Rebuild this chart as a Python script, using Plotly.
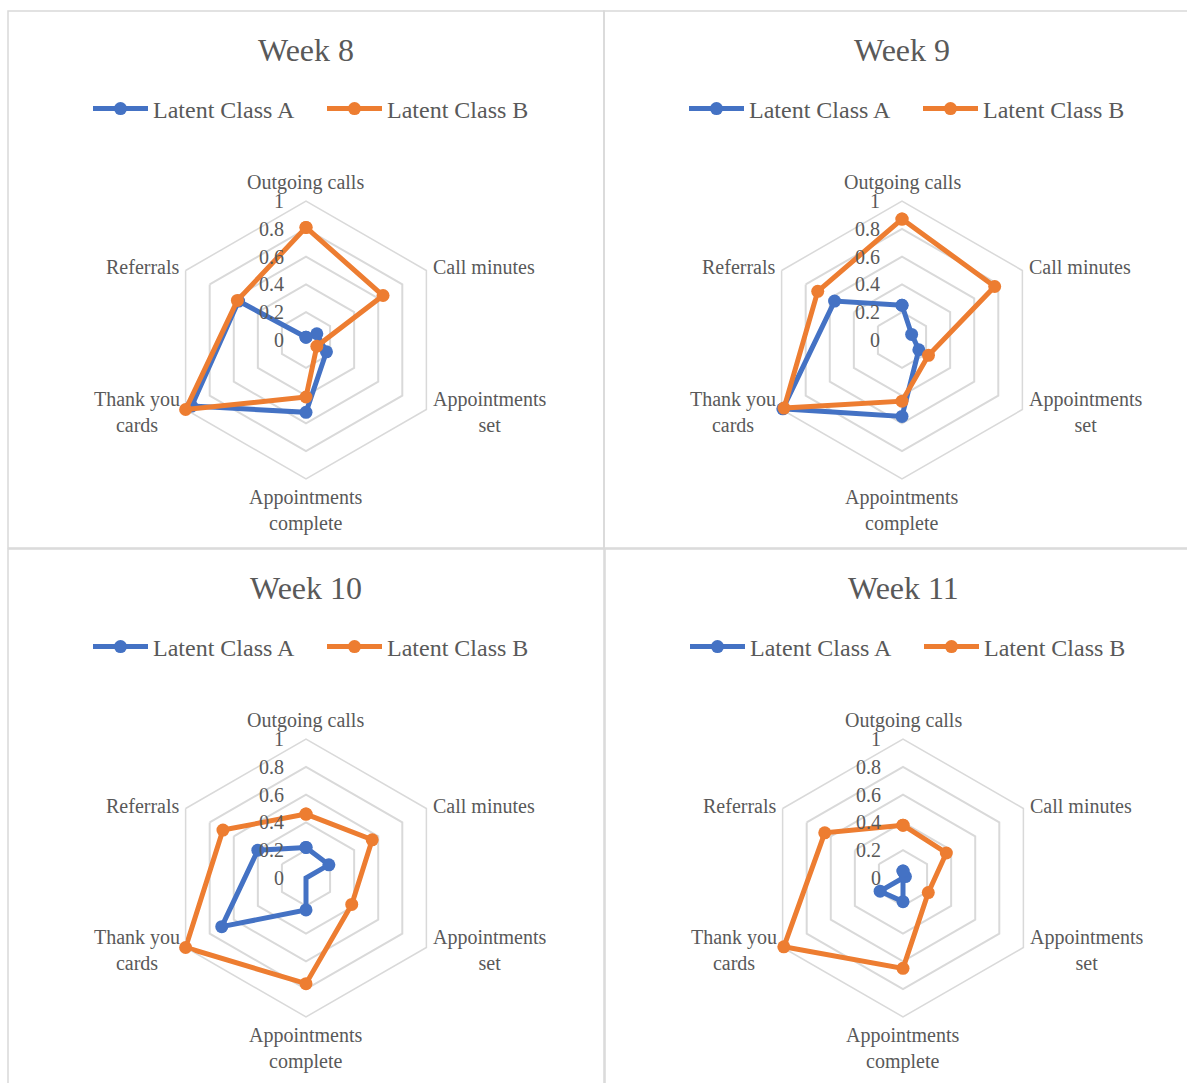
import math
import plotly.graph_objects as go

# Activity measures shown on each radar axis
categories = ["Outgoing calls", "Call minutes", "Appointments set",
              "Appointments complete", "Thank you cards", "Referrals"]
category_labels = ["Outgoing calls", "Call minutes", "Appointments<br>set",
                   "Appointments<br>complete", "Thank you<br>cards", "Referrals"]

weeks = ["Week 8", "Week 9", "Week 10", "Week 11"]

# Normalised scores per latent class, one list per week
class_a_week8 = [0.02, 0.09, 0.17, 0.52, 0.95, 0.56]
class_b_week8 = [0.81, 0.64, 0.09, 0.41, 1.00, 0.57]
class_a_week9 = [0.25, 0.08, 0.14, 0.55, 0.99, 0.56]
class_b_week9 = [0.87, 0.77, 0.22, 0.44, 0.98, 0.70]
class_a_week10 = [0.22, 0.19, 0.00, 0.23, 0.70, 0.40]
class_b_week10 = [0.46, 0.55, 0.38, 0.76, 1.00, 0.69]
class_a_week11 = [0.05, 0.02, 0.00, 0.17, 0.19, 0.00]
class_b_week11 = [0.38, 0.36, 0.21, 0.65, 0.99, 0.65]

series_names = ["Latent Class A", "Latent Class B"]
radial_ticks = [0, 0.2, 0.4, 0.6, 0.8, 1]

class_a = [class_a_week8, class_a_week9, class_a_week10, class_a_week11]
class_b = [class_b_week8, class_b_week9, class_b_week10, class_b_week11]

W, H = 1187, 1083
FONT = "Liberation Serif"
TEXT = "#595959"
GRID = "#d9d9d9"
COLORS = ["#4472C4", "#ED7D31"]

# Panel top-left corners (px) and sizes
panel_origins = [(8, 11), (604, 11), (8, 549), (605, 549)]
PANEL_W, PANEL_H = 596, 537
CENTER_DX, CENTER_DY = 298, 329
RADIUS = 139
TITLE_DY, LEGEND_DY = 39, 98


def px_x(x):
    return x / W


def px_y(y):
    return 1 - y / H


fig = go.Figure()
layout = dict(
    width=W, height=H,
    margin=dict(l=0, r=0, t=0, b=0),
    paper_bgcolor="white", plot_bgcolor="white",
    font=dict(family=FONT, color=TEXT, size=20),
    shapes=[], annotations=[],
)

n_cat = len(categories)
for i, week in enumerate(weeks):
    ox, oy = panel_origins[i]
    cx, cy = ox + CENTER_DX, oy + CENTER_DY
    polar_name = "polar" if i == 0 else f"polar{i + 1}"
    subplot = polar_name
    legend_name = "legend" if i == 0 else f"legend{i + 1}"

    for s, values in enumerate([class_a[i], class_b[i]]):
        fig.add_trace(go.Scatterpolar(
            r=values + values[:1],
            theta=categories + categories[:1],
            mode="lines+markers",
            name=series_names[s],
            line=dict(color=COLORS[s], width=5),
            marker=dict(color=COLORS[s], size=13),
            subplot=subplot,
            legend=legend_name,
            cliponaxis=False,
        ))

    layout[polar_name] = dict(
        domain=dict(x=[px_x(cx - RADIUS), px_x(cx + RADIUS)],
                    y=[px_y(cy + RADIUS), px_y(cy - RADIUS)]),
        bgcolor="rgba(0,0,0,0)",
        gridshape="linear",
        radialaxis=dict(
            range=[0, 1], tickvals=radial_ticks,
            showticklabels=False,
            angle=90, showline=False, ticks="",
            gridcolor=GRID, gridwidth=1.5,
            layer="below traces",
        ),
        angularaxis=dict(
            direction="clockwise", rotation=90,
            categoryorder="array", categoryarray=categories,
            showticklabels=False,
            showgrid=False, showline=True, linecolor=GRID, linewidth=1.5,
            ticks="", layer="below traces",
        ),
    )

    # Radial value labels, right-aligned just left of the vertical axis
    for t in radial_ticks:
        layout["annotations"].append(dict(
            text=f"{t:g}", showarrow=False,
            x=px_x(cx - 20), y=px_y(cy - t * RADIUS),
            xref="paper", yref="paper", xanchor="right", yanchor="middle",
            font=dict(family=FONT, color=TEXT, size=20),
        ))

    # Category labels placed just outside each vertex of the outer hexagon
    for k, label in enumerate(category_labels):
        ang = 2 * math.pi * k / n_cat
        vx = cx + RADIUS * math.sin(ang)
        vy = cy - RADIUS * math.cos(ang)
        sx = math.sin(ang)
        if abs(sx) < 1e-6:
            xa = "center"
            lx = vx
            if math.cos(ang) > 0:
                ya, ly = "bottom", vy - 5
            else:
                ya, ly = "top", vy + 5
        else:
            xa = "left" if sx > 0 else "right"
            lx = vx + (5 if sx > 0 else -4)
            ya = "middle"
            ly = vy + (-3 if math.cos(ang) > 0 else 2)
        layout["annotations"].append(dict(
            text=label, showarrow=False, align="center",
            x=px_x(lx), y=px_y(ly),
            xref="paper", yref="paper", xanchor=xa, yanchor=ya,
            font=dict(family=FONT, color=TEXT, size=20),
        ))

    layout[legend_name] = dict(
        orientation="h",
        x=px_x(cx + 16), xanchor="center",
        y=px_y(oy + LEGEND_DY), yanchor="middle",
        font=dict(family=FONT, color=TEXT, size=24),
        bgcolor="rgba(0,0,0,0)",
        itemwidth=55,
        entrywidth=164,
        traceorder="normal",
    )

    layout["annotations"].append(dict(
        text=week, showarrow=False,
        x=px_x(cx), y=px_y(oy + TITLE_DY),
        xref="paper", yref="paper", xanchor="center", yanchor="middle",
        font=dict(family=FONT, color=TEXT, size=32),
    ))

    layout["shapes"].append(dict(
        type="rect", xref="paper", yref="paper",
        x0=px_x(ox), x1=px_x(ox + PANEL_W),
        y0=px_y(oy + PANEL_H), y1=px_y(oy),
        line=dict(color=GRID, width=1.5), layer="below",
    ))

fig.update_layout(**layout)
fig.write_html("out.html")
